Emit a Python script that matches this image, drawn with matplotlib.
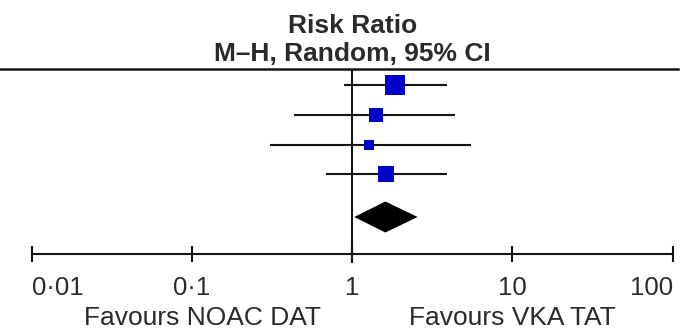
import numpy as np
import matplotlib
matplotlib.use("Agg")
import matplotlib.pyplot as plt

# ---- data ----
study_rr = [1.86, 1.41, 1.28, 1.62]
study_lo = [0.895, 0.436, 0.308, 0.688]
study_hi = [3.93, 4.41, 5.53, 3.93]
study_weight = [39.7, 18.6, 11.0, 30.7]   # % weight (square area)
pooled_rr = 1.61
pooled_lo = 1.03
pooled_hi = 2.56
tick_values = [0.01, 0.1, 1, 10, 100]
tick_labels = ["0\u00b701", "0\u00b71", "1", "10", "100"]
title_lines = ["Risk Ratio", "M\u2013H, Random, 95% CI"]
favours_left = "Favours NOAC DAT"
favours_right = "Favours VKA TAT"

plt.rcParams['font.family'] = ['Liberation Sans', 'DejaVu Sans']

W, H = 680, 331
fig = plt.figure(figsize=(W / 100, H / 100), dpi=100)
x0, x1 = 31.7, 672.7
ax = fig.add_axes([x0 / W, 0, (x1 - x0) / W, 1])
ax.set_xscale('log')
ax.set_xlim(0.01, 100)
ax.set_ylim(H, 0)  # layout in pixel rows
ax.patch.set_visible(False)

ink = '#141414'
blue = '#0000c8'
txt = '#2a2a2a'

# layout
row0, row_step = 85.0, 29.8
y_rows = [row0 + row_step * i for i in range(len(study_rr))]
y_diamond = 217.0
diamond_half = 15.5
y_top = 69.0
y_axis = 254.0

# top rule spanning the figure
ax.axhline(y_top, xmin=-x0 / (x1 - x0), xmax=(678 - x0) / (x1 - x0),
           color=ink, lw=1.8, clip_on=False)
# line of no effect
ax.plot([1, 1], [y_top, 263], color=ink, lw=1.5, solid_capstyle='butt')

# studies
for y, rr, lo, hi, w in zip(y_rows, study_rr, study_lo, study_hi, study_weight):
    ax.plot([lo, hi], [y, y], color=ink, lw=1.5, solid_capstyle='butt')
    side_px = 3.05 * np.sqrt(w)
    ax.plot(rr, y, marker='s', ms=side_px * 0.72, color=blue, mec=blue, mew=0)

# pooled diamond
ax.fill([pooled_lo, pooled_rr, pooled_hi, pooled_rr],
        [y_diamond, y_diamond - diamond_half, y_diamond, y_diamond + diamond_half],
        color='black', lw=0)

# x axis
for s in ['top', 'right', 'left']:
    ax.spines[s].set_visible(False)
ax.spines['bottom'].set_position(('data', y_axis))
ax.spines['bottom'].set_linewidth(1.5)
ax.spines['bottom'].set_color(ink)
ax.set_yticks([])
ax.set_xticks(tick_values)
ax.set_xticklabels(tick_labels)
ax.xaxis.set_minor_locator(matplotlib.ticker.NullLocator())
ax.tick_params(axis='x', direction='inout', length=12.2, width=1.5, color=ink,
               pad=10, labelsize=18.5, labelcolor=txt)
labels = ax.get_xticklabels()
labels[0].set_ha('left')
labels[-1].set_ha('right')

# titles
ax.text(1, 33, title_lines[0], ha='center', va='baseline', fontsize=19,
        fontweight='bold', color=txt)
ax.text(1, 61, title_lines[1], ha='center', va='baseline', fontsize=19,
        fontweight='bold', color=txt)

# favours labels
ax.text(0.116, 325, favours_left, ha='center', va='baseline', fontsize=19, color=txt)
ax.text(10, 325, favours_right, ha='center', va='baseline', fontsize=19, color=txt)

fig.savefig('out.png', dpi=100)
